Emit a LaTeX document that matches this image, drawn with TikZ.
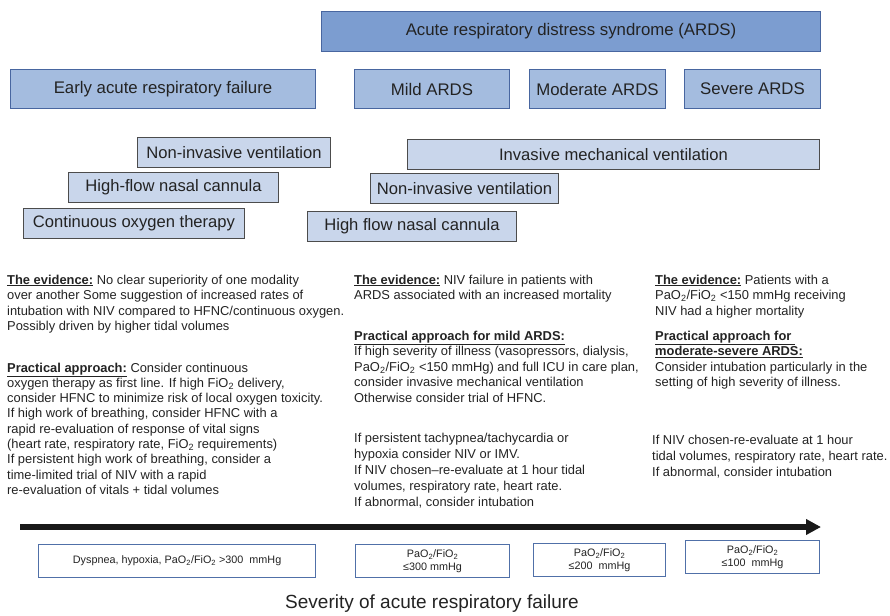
\documentclass[tikz,border=0pt]{standalone}
\usepackage{fontspec}
\setmainfont{Liberation Sans}
\usetikzlibrary{arrows.meta}
\usepackage{xcolor}

\definecolor{ardsblue}{RGB}{124,157,208}
\definecolor{stageblue}{RGB}{164,188,223}
\definecolor{modeblue}{RGB}{201,214,235}
\definecolor{edgeblue}{RGB}{72,102,160}
\definecolor{sevline}{RGB}{80,112,168}
\definecolor{inkgray}{RGB}{35,35,35}

\tikzset{
 stagebox/.style={draw=edgeblue, fill=stageblue, line width=1pt, inner sep=0, anchor=north west, text=inkgray, font=\fontsize{16.8}{20}\selectfont},
 modebox/.style={draw=black!70, fill=modeblue, line width=1pt, inner sep=0, anchor=north west, text=inkgray, font=\fontsize{16.6}{20}\selectfont},
 sevbox/.style={draw=sevline, fill=white, line width=1.2pt, inner sep=0, anchor=north west, align=center, text=inkgray, font=\fontsize{10.8}{13}\selectfont},
 notes/.style={anchor=north west, align=left, inner sep=0, text=inkgray, font=\fontsize{12.9}{15.5}\selectfont}
}
\newcommand{\hd}[1]{\underline{\textbf{#1}}}
\newcommand{\ttwo}{\textsubscript{2}}

\begin{document}
\begin{tikzpicture}[x=1pt, y=-1pt]
\useasboundingbox (0,0) rectangle (890,615);
% stages
\node[stagebox, fill=ardsblue, minimum width=499pt, minimum height=40pt] (ards) at (321,11) {Acute respiratory distress syndrome (ARDS)};
\node[stagebox, minimum width=305pt, minimum height=39pt] (early) at (10,69) {Early acute respiratory failure};
\node[stagebox, minimum width=155pt, minimum height=39pt] (mild) at (354,69) {Mild ARDS};
\node[stagebox, minimum width=136pt, minimum height=39pt] (moderate) at (529,69) {Moderate ARDS};
\node[stagebox, minimum width=136pt, minimum height=39pt] (severe) at (684,69) {Severe ARDS};
% support modes
\foreach \n/\x/\y/\w/\t in {nivA/137/137/193/{Non-invasive ventilation}, hfncA/68/172/210/{High-flow nasal cannula}, cot/23/208/221/{Continuous oxygen therapy}, imv/407/139/412/{Invasive mechanical ventilation}, nivB/370/173/188/{Non-invasive ventilation}, hfncB/307/211/209/{High flow nasal cannula}} {
 \node[modebox, minimum width=\w pt, minimum height=30pt] (\n) at (\x,\y) {\t};
}
% notes
\node[notes] (evA) at (7,274.5) {\hd{The evidence:} No clear superiority of one modality\\
over another Some suggestion of increased rates of\\
intubation with NIV compared to HFNC/continuous oxygen.\\
Possibly driven by higher tidal volumes};
\node[notes, font=\fontsize{12.9}{15.3}\selectfont] (paA) at (7,362.5) {\hd{Practical approach:} Consider continuous\\
oxygen therapy as first line. If high FiO\ttwo\ delivery,\\
consider HFNC to minimize risk of local oxygen toxicity.\\
If high work of breathing, consider HFNC with a\\
rapid re-evaluation of response of vital signs\\
(heart rate, respiratory rate, FiO\ttwo\ requirements)\\
If persistent high work of breathing, consider a\\
time-limited trial of NIV with a rapid\\
re-evaluation of vitals + tidal volumes};
\node[notes] (evB) at (354,274.5) {\hd{The evidence:} NIV failure in patients with\\
ARDS associated with an increased mortality};
\node[notes] (paB) at (354,330.5) {\hd{Practical approach for mild ARDS:}\\
If high severity of illness (vasopressors, dialysis,\\
PaO\ttwo/FiO\ttwo\ <150 mmHg) and full ICU in care plan,\\
consider invasive mechanical ventilation\\
Otherwise consider trial of HFNC.};
\node[notes, font=\fontsize{12.9}{16.2}\selectfont] (ifB) at (354,432.5) {If persistent tachypnea/tachycardia or\\
hypoxia consider NIV or IMV.\\
If NIV chosen--re-evaluate at 1 hour tidal\\
volumes, respiratory rate, heart rate.\\
If abnormal, consider intubation};
\node[notes] (evC) at (655,274.5) {\hd{The evidence:} Patients with a\\
PaO\ttwo/FiO\ttwo\ <150 mmHg receiving\\
NIV had a higher mortality};
\node[notes] (paC) at (655,330.5) {\hd{Practical approach for }\\
\hd{moderate-severe ARDS:}\\
Consider intubation particularly in the\\
setting of high severity of illness.};
\node[notes, font=\fontsize{12.9}{16}\selectfont] (ifC) at (652,434.5) {If NIV chosen-re-evaluate at 1 hour\\
tidal volumes, respiratory rate, heart rate.\\
If abnormal, consider intubation};
% severity axis
\coordinate (axstart) at (20,527);
\coordinate (axend) at (821,527);
\draw[black!90, line width=6pt, -{Triangle[length=15pt, width=15pt]}] (axstart) -- (axend);
\node[sevbox, minimum width=277pt, minimum height=33pt] (sevA) at (38,544) {Dyspnea, hypoxia, PaO\ttwo/FiO\ttwo\ >300~ mmHg};
\node[sevbox, minimum width=154pt, minimum height=33pt] (sevB) at (355,544) {PaO\ttwo/FiO\ttwo\\ ≤300 mmHg};
\node[sevbox, minimum width=132pt, minimum height=33pt] (sevC) at (533,543) {PaO\ttwo/FiO\ttwo\\ ≤200~ mmHg};
\node[sevbox, minimum width=134pt, minimum height=33pt] (sevD) at (685,540) {PaO\ttwo/FiO\ttwo\\ ≤100~ mmHg};
\node[text=inkgray, font=\fontsize{19}{22}\selectfont] (axis) at (432,604) {Severity of acute respiratory failure};
\end{tikzpicture}
\end{document}
